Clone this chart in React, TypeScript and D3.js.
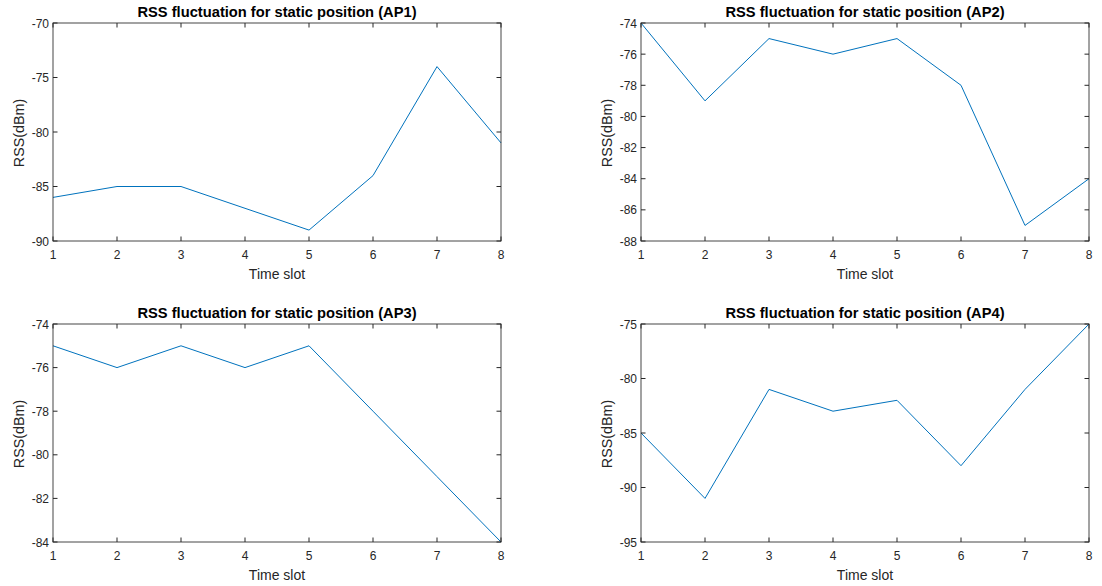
import * as d3 from "d3";

const timeSlots = [1, 2, 3, 4, 5, 6, 7, 8];
const ap1 = [-86, -85, -85, -87, -89, -84, -74, -81];
const ap2 = [-74, -79, -75, -76, -75, -78, -87, -84];
const ap3 = [-75, -76, -75, -76, -75, -78, -81, -84];
const ap4 = [-85, -91, -81, -83, -82, -88, -81, -75];

const panelNames = ["AP1", "AP2", "AP3", "AP4"];
const yDomains = [
  [-90, -70],
  [-88, -74],
  [-84, -74],
  [-95, -75],
];
const yTickSteps = [5, 2, 2, 5];

const width = 1102;
const height = 586;
const panelW = 448;
const panelH = 218;
const panelLefts = [53, 641];
const panelTops = [23, 324];

const axisColor = "#262626";
const lineColor = "#0072BD";
const font = "'Liberation Sans', Arial, sans-serif";

function Panel({ idx, values }: { idx: number; values: number[] }) {
  const left = panelLefts[idx % 2];
  const top = panelTops[Math.floor(idx / 2)];
  const x = d3.scaleLinear().domain([1, 8]).range([0, panelW]);
  const [y0, y1] = yDomains[idx];
  const y = d3.scaleLinear().domain([y0, y1]).range([panelH, 0]);
  const yTicks = d3.range(y0, y1 + 0.001, yTickSteps[idx]);
  const line = d3
    .line<number>()
    .x((_, i) => x(timeSlots[i]))
    .y((d) => y(d));
  const tl = 4.5;

  return (
    <g transform={`translate(${left},${top})`}>
      <rect x={0} y={0} width={panelW} height={panelH} fill="#fff" />
      <path d={line(values) ?? ""} fill="none" stroke={lineColor} strokeWidth={1} />
      <rect
        x={0}
        y={0}
        width={panelW}
        height={panelH}
        fill="none"
        stroke={axisColor}
        strokeWidth={1}
        opacity={0.85}
      />
      {timeSlots.map((t) => (
        <g key={`x${t}`}>
          <line x1={x(t)} x2={x(t)} y1={panelH} y2={panelH - tl} stroke={axisColor} />
          <line x1={x(t)} x2={x(t)} y1={0} y2={tl} stroke={axisColor} />
          <text
            x={x(t)}
            y={panelH + 17.5}
            textAnchor="middle"
            fontSize={12}
            fontFamily={font}
            fill={axisColor}
          >
            {t}
          </text>
        </g>
      ))}
      {yTicks.map((v) => (
        <g key={`y${v}`}>
          <line x1={0} x2={tl} y1={y(v)} y2={y(v)} stroke={axisColor} />
          <line x1={panelW} x2={panelW - tl} y1={y(v)} y2={y(v)} stroke={axisColor} />
          <text
            x={-4}
            y={y(v) + 4.5}
            textAnchor="end"
            fontSize={12}
            fontFamily={font}
            fill={axisColor}
          >
            {v}
          </text>
        </g>
      ))}
      <text
        x={panelW / 2}
        y={panelH + 38}
        textAnchor="middle"
        fontSize={14}
        fontFamily={font}
        fill={axisColor}
      >
        Time slot
      </text>
      <text
        transform={`translate(${-29},${panelH / 2 + 1}) rotate(-90)`}
        textAnchor="middle"
        fontSize={14.3}
        fontFamily={font}
        fill={axisColor}
      >
        RSS(dBm)
      </text>
      <text
        x={panelW / 2}
        y={-6}
        textAnchor="middle"
        fontSize={14.7}
        fontWeight="bold"
        fontFamily={font}
        fill="#000"
      >
        {`RSS fluctuation for static position (${panelNames[idx]})`}
      </text>
    </g>
  );
}

export default function App() {
  const series = [ap1, ap2, ap3, ap4];
  return (
    <svg
      width={width}
      height={height}
      style={{ position: "absolute", left: 0, top: 0, background: "#fff" }}
    >
      <rect width={width} height={height} fill="#fff" />
      {series.map((s, i) => (
        <Panel key={i} idx={i} values={s} />
      ))}
    </svg>
  );
}
